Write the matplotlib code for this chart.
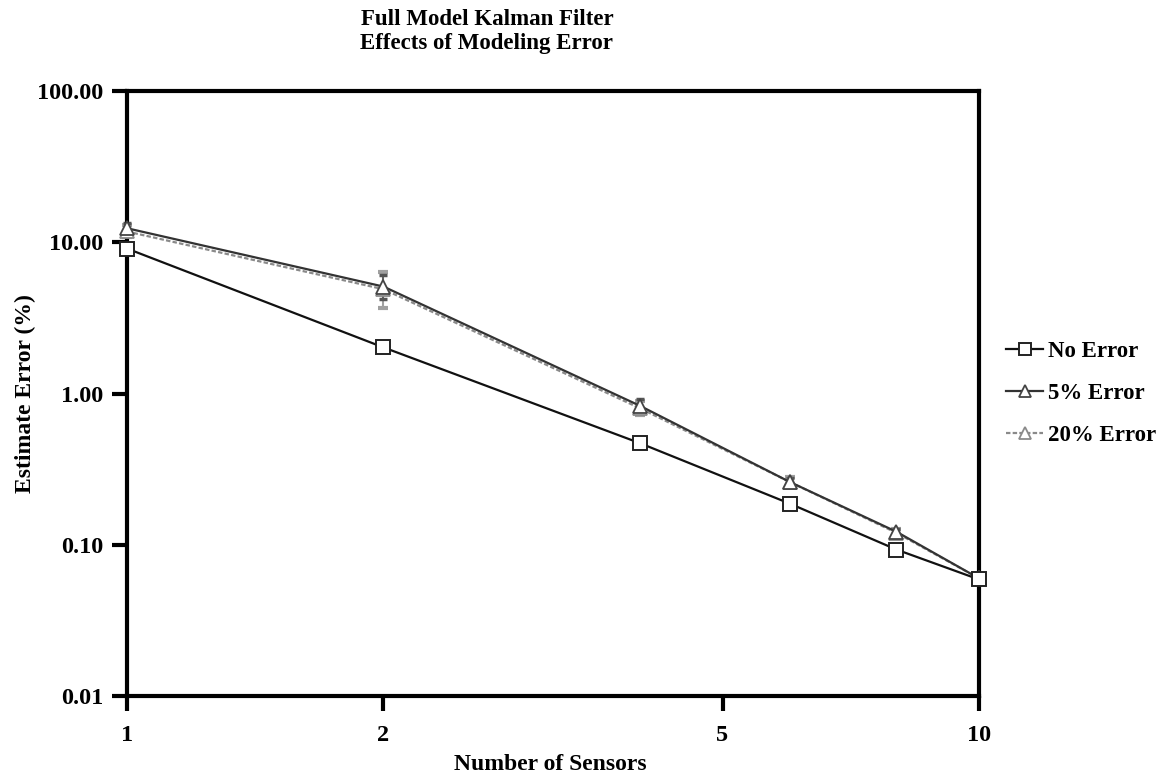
import matplotlib.pyplot as plt
import matplotlib.ticker as mticker

plt.rcParams['font.family'] = ['Liberation Serif', 'DejaVu Serif']

# data
sensors = [1, 2, 4, 6, 8, 10]
no_error = [9.1, 2.02, 0.47, 0.187, 0.093, 0.059]
err_5 = [12.4, 5.1, 0.83, 0.26, 0.122, 0.060]
err_20 = [11.8, 4.9, 0.80, 0.26, 0.120, 0.060]
err_5_low = [11.6, 4.2, 0.76, 0.245, 0.115, 0.058]
err_5_high = [13.4, 6.1, 0.92, 0.275, 0.128, 0.062]
err_20_low = [10.8, 3.7, 0.72, 0.24, 0.112, 0.057]
err_20_high = [13.0, 6.4, 0.90, 0.28, 0.128, 0.063]

x_ticks = [1, 2, 5, 10]
y_ticks = [0.01, 0.1, 1, 10, 100]

fig = plt.figure(figsize=(11.76, 7.79), dpi=100)
ax = fig.add_axes([0.108, 0.1065, 0.7245, 0.7765])

# error bars (drawn first, behind the markers)
ax.errorbar(sensors, err_20,
            yerr=[[a - b for a, b in zip(err_20, err_20_low)],
                  [b - a for a, b in zip(err_20, err_20_high)]],
            fmt='none', ecolor='#a0a0a0', elinewidth=1.5, capsize=3.5, capthick=3,
            clip_on=False, zorder=2)
ax.errorbar(sensors, err_5,
            yerr=[[a - b for a, b in zip(err_5, err_5_low)],
                  [b - a for a, b in zip(err_5, err_5_high)]],
            fmt='none', ecolor='#555555', elinewidth=1.2, capsize=3, capthick=2.5,
            clip_on=False, zorder=2)

ax.plot(sensors, no_error, color='#111111', lw=1.6, marker='s', ms=10,
        mfc='white', mec='#222222', mew=1.4, label='No Error', clip_on=False, zorder=5)
ax.plot(sensors, err_5, color='#333333', lw=1.6, marker='^', ms=10,
        mfc='white', mec='#444444', mew=1.3, label='5% Error', clip_on=False, zorder=4)
ax.plot(sensors, err_20, color='#8a8a8a', lw=1.6, ls=(0, (2, 1)), marker='^', ms=10,
        mfc='white', mec='#8a8a8a', mew=1.3, label='20% Error', clip_on=False, zorder=3)

ax.set_xscale('log')
ax.set_yscale('log')
ax.set_xlim(1, 10)
ax.set_ylim(0.01, 100)
ax.xaxis.set_major_locator(mticker.FixedLocator(x_ticks))
ax.xaxis.set_major_formatter(mticker.FixedFormatter([str(v) for v in x_ticks]))
ax.xaxis.set_minor_locator(mticker.NullLocator())
ax.yaxis.set_major_locator(mticker.FixedLocator(y_ticks))
ax.yaxis.set_major_formatter(mticker.FormatStrFormatter('%.2f'))
ax.yaxis.set_minor_locator(mticker.NullLocator())

for s in ax.spines.values():
    s.set_linewidth(3)
ax.tick_params(axis='both', direction='out', length=11, width=3, labelsize=17.5)
ax.tick_params(axis='x', pad=10)
ax.tick_params(axis='y', pad=6)
for lab in ax.get_xticklabels() + ax.get_yticklabels():
    lab.set_fontweight('bold')

ax.set_xlabel('Number of Sensors', fontsize=17, fontweight='bold')
ax.set_ylabel('Estimate Error (%)', fontsize=17, fontweight='bold')
ax.xaxis.set_label_coords(0.497, -0.095)
ax.yaxis.set_label_coords(-0.107, 0.5)
fig.text(0.414, 0.988, 'Full Model Kalman Filter\nEffects of Modeling Error',
         ha='center', va='top', fontsize=16.5, fontweight='bold', linespacing=1.15)

ax.legend(loc='center left', bbox_to_anchor=(1.008, 0.5), frameon=False,
          prop={'weight': 'bold', 'size': 16.5}, handlelength=1.6, handletextpad=0.2,
          labelspacing=0.9, markerscale=0.8)

fig.savefig('out.png', dpi=100)
